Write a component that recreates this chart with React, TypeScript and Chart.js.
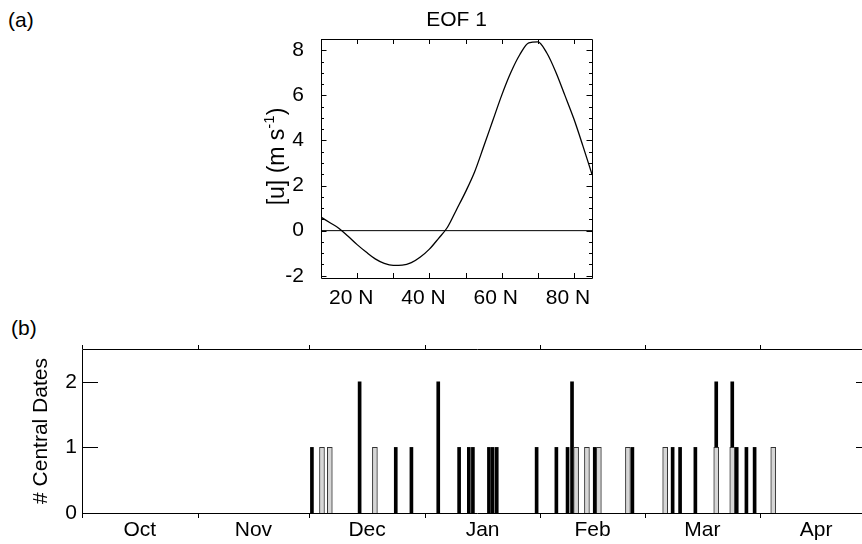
import React, { useEffect, useRef } from 'react';
import { Chart, registerables } from 'chart.js';

Chart.register(...registerables);

const FONT = '"Liberation Sans", Arial, Helvetica, sans-serif';

// ---------- Panel (a): EOF 1 ----------
const latitudes = [10, 12.5, 15, 17.5, 20, 22.5, 25, 27.5, 30, 32.5, 35, 37.5, 40, 42.5, 45, 47.5, 50, 52.5, 55, 57.5, 60, 62.5, 65, 67.5, 70, 72.5, 75, 77.5, 80, 82.5, 85];
const eofValues = [0.6, 0.35, 0.1, -0.25, -0.62, -0.95, -1.25, -1.45, -1.54, -1.53, -1.42, -1.17, -0.82, -0.35, 0.15, 0.93, 1.72, 2.6, 3.72, 4.86, 6.0, 7.0, 7.8, 8.33, 8.37, 7.88, 7.03, 6.0, 4.95, 3.75, 2.5];
const zeroLineLats = [10, 85];
const zeroLineValues = [0, 0];
const latTickValues = [10, 20, 30, 40, 50, 60, 70, 80];
const latLabelValues = [20, 40, 60, 80];
const uTickValues = [-2, 0, 2, 4, 6, 8];
const uMinorTickValues = [-1.5, -1, -0.5, 0.5, 1, 1.5, 2.5, 3, 3.5, 4.5, 5, 5.5, 6.5, 7, 7.5];
const panelATitle = 'EOF 1';
const yTitleMain = '[u] (m s';
const yTitleSup = '-1';
const yTitleClose = ')';

// ---------- Panel (b): central dates ----------
const monthNames = ['Oct', 'Nov', 'Dec', 'Jan', 'Feb', 'Mar', 'Apr'];
const monthStartDays = [0, 31, 61, 92, 123, 151, 182, 212];
const blackDays = [61.7, 74.5, 84.2, 88.4, 95.6, 101.2, 103.8, 104.9, 109.2, 110.2, 111.3, 122.0, 127.3, 130.3, 131.5, 137.6, 147.7, 158.5, 160.5, 164.6, 170.2, 174.5, 175.7, 178.3, 180.5];
const blackCounts = [1, 2, 1, 1, 2, 1, 1, 1, 1, 1, 1, 1, 1, 1, 2, 1, 1, 1, 1, 1, 2, 2, 1, 1, 1];
const greyDays = [64.4, 66.5, 78.6, 132.6, 135.5, 138.7, 146.5, 156.5, 170.2, 174.5, 185.5];
const greyCounts = [1, 1, 1, 1, 1, 1, 1, 1, 1, 1, 1];
const countTickValues = [0, 1, 2];
const panelBYTitle = '# Central Dates';

const px = (v: number) => Math.round(v) + 0.5;

const frameA = {
  id: 'frameA',
  afterDraw(chart: any) {
    const { ctx, chartArea: a, scales } = chart;
    const xs = scales.x, ys = scales.y;
    ctx.save();
    ctx.strokeStyle = '#000';
    ctx.lineWidth = 1;
    ctx.beginPath();
    ctx.rect(px(a.left), px(a.top), Math.round(a.right) - Math.round(a.left), Math.round(a.bottom) - Math.round(a.top));
    ctx.stroke();
    ctx.beginPath();
    const yTick = (v: number, len: number) => {
      const y = px(ys.getPixelForValue(v));
      ctx.moveTo(a.left, y); ctx.lineTo(a.left + len, y);
      ctx.moveTo(a.right, y); ctx.lineTo(a.right - len, y);
    };
    uTickValues.forEach(v => yTick(v, 5.5));
    uMinorTickValues.forEach(v => yTick(v, 3));
    latTickValues.forEach(v => {
      const x = px(xs.getPixelForValue(v));
      ctx.moveTo(x, a.bottom); ctx.lineTo(x, a.bottom - 5);
      ctx.moveTo(x, a.top); ctx.lineTo(x, a.top + 5);
    });
    ctx.stroke();
    // y axis title with superscript
    ctx.fillStyle = '#000';
    ctx.textBaseline = 'middle';
    ctx.textAlign = 'left';
    ctx.translate(a.left - 43, (a.top + a.bottom) / 2 - 2);
    ctx.rotate(-Math.PI / 2);
    ctx.font = `23px ${FONT}`;
    const w1 = ctx.measureText(yTitleMain).width;
    const w3 = ctx.measureText(yTitleClose).width;
    ctx.font = `15px ${FONT}`;
    const w2 = ctx.measureText(yTitleSup).width;
    let cx = -(w1 + w2 + w3) / 2;
    ctx.font = `23px ${FONT}`;
    ctx.fillText(yTitleMain, cx, 0);
    cx += w1;
    ctx.font = `15px ${FONT}`;
    ctx.fillText(yTitleSup, cx, -8);
    cx += w2;
    ctx.font = `23px ${FONT}`;
    ctx.fillText(yTitleClose, cx, 0);
    ctx.restore();
  },
};

const frameB = {
  id: 'frameB',
  afterDraw(chart: any) {
    const { ctx, chartArea: a, scales } = chart;
    const xs = scales.x, ys = scales.y;
    ctx.save();
    ctx.strokeStyle = '#000';
    ctx.lineWidth = 1;
    ctx.beginPath();
    ctx.rect(px(a.left), px(a.top), Math.round(a.right) - Math.round(a.left), Math.round(a.bottom) - Math.round(a.top));
    ctx.stroke();
    ctx.beginPath();
    countTickValues.forEach(v => {
      const y = px(ys.getPixelForValue(v));
      ctx.moveTo(a.left, y); ctx.lineTo(a.left + 16, y);
      ctx.moveTo(a.right, y); ctx.lineTo(a.right - 16, y);
    });
    monthStartDays.forEach(v => {
      const x = px(xs.getPixelForValue(v));
      ctx.moveTo(x, a.bottom); ctx.lineTo(x, a.bottom + 5);
      ctx.moveTo(x, a.top); ctx.lineTo(x, a.top - 4);
    });
    ctx.stroke();
    ctx.restore();
  },
};

export default function App() {
  const refA = useRef<HTMLCanvasElement>(null);
  const refB = useRef<HTMLCanvasElement>(null);

  useEffect(() => {
    Chart.defaults.font.family = FONT;
    Chart.defaults.color = '#000';
    const tickFont = { size: 21, family: FONT };

    const chartA = new Chart(refA.current!, {
      type: 'line',
      data: {
        datasets: [
          {
            data: latitudes.map((x, i) => ({ x, y: eofValues[i] })),
            borderColor: '#000',
            borderWidth: 1.3,
            pointRadius: 0,
            cubicInterpolationMode: 'monotone',
          },
          {
            data: zeroLineLats.map((x, i) => ({ x, y: zeroLineValues[i] })),
            borderColor: '#000',
            borderWidth: 1,
            pointRadius: 0,
          },
        ],
      },
      options: {
        animation: false,
        responsive: false,
        events: [],
        layout: { padding: { left: 0, right: 18, top: 0, bottom: 0 } },
        plugins: {
          legend: { display: false },
          tooltip: { enabled: false },
          title: {
            display: true,
            text: panelATitle,
            fullSize: false,
            color: '#000',
            font: { size: 21, weight: 'normal', family: FONT },
            padding: { top: 8, bottom: 5.8 },
          },
        },
        scales: {
          x: {
            type: 'linear',
            min: 10,
            max: 85,
            grid: { display: false, drawTicks: false },
            border: { display: false },
            afterBuildTicks: (s: any) => { s.ticks = latTickValues.map(v => ({ value: v })); },
            afterFit: (s: any) => { s.height = 42; },
            ticks: {
              autoSkip: false,
              maxRotation: 0,
              padding: 8,
              labelOffset: -6,
              font: tickFont,
              color: '#000',
              callback: (v: any) => (latLabelValues.includes(v) ? `${v} N` : ''),
            },
          },
          y: {
            type: 'linear',
            min: -2.1,
            max: 8.5,
            grid: { display: false, drawTicks: false },
            border: { display: false },
            afterBuildTicks: (s: any) => { s.ticks = uTickValues.map(v => ({ value: v })); },
            afterFit: (s: any) => { s.width = 91; },
            ticks: { padding: 17, font: tickFont, color: '#000', callback: (v: any) => String(v) },
          },
        },
      } as any,
      plugins: [frameA],
    });

    const chartB = new Chart(refB.current!, {
      type: 'bar',
      data: {
        datasets: [
          {
            data: greyDays.map((x, i) => ({ x, y: greyCounts[i] })),
            backgroundColor: '#d6d6d6',
            borderColor: '#333',
            borderWidth: 1,
            barThickness: 5,
            grouped: false,
            order: 0,
          },
          {
            data: blackDays.map((x, i) => ({ x, y: blackCounts[i] })),
            backgroundColor: '#000',
            borderWidth: 0,
            barThickness: 3,
            grouped: false,
            order: 1,
          },
        ],
      } as any,
      options: {
        animation: false,
        responsive: false,
        events: [],
        layout: { padding: { left: 0, right: 28, top: 29, bottom: 0 } },
        plugins: { legend: { display: false }, tooltip: { enabled: false } },
        scales: {
          x: {
            type: 'linear',
            min: 0,
            max: 212,
            offset: false,
            grid: { display: false, drawTicks: false, offset: false },
            border: { display: false },
            afterBuildTicks: (s: any) => {
              s.ticks = monthNames.map((_, i) => ({ value: (monthStartDays[i] + monthStartDays[i + 1]) / 2 }));
            },
            afterFit: (s: any) => { s.height = 31; },
            ticks: {
              autoSkip: false,
              maxRotation: 0,
              padding: 5,
              font: tickFont,
              color: '#000',
              callback: (_v: any, i: number) => monthNames[i],
            },
          },
          y: {
            type: 'linear',
            min: 0,
            max: 2.5,
            grid: { display: false, drawTicks: false },
            border: { display: false },
            afterBuildTicks: (s: any) => { s.ticks = countTickValues.map(v => ({ value: v })); },
            afterFit: (s: any) => { s.width = 82; },
            ticks: { padding: 5, font: tickFont, color: '#000' },
            title: {
              display: true,
              text: panelBYTitle,
              color: '#000',
              font: { size: 21, family: FONT },
              padding: { top: 29, bottom: 0 },
            },
          },
        },
      } as any,
      plugins: [frameB],
    });

    return () => {
      chartA.destroy();
      chartB.destroy();
    };
  }, []);

  const labelStyle: React.CSSProperties = {
    position: 'absolute',
    fontFamily: FONT,
    fontSize: 21,
    lineHeight: '24px',
    color: '#000',
  };

  return (
    <div style={{ position: 'fixed', left: 0, top: 0, width: 862, height: 544, overflow: 'hidden', background: '#fff' }}>
      <div style={{ ...labelStyle, left: 8, top: 8 }}>(a)</div>
      <div style={{ ...labelStyle, left: 11, top: 316 }}>(b)</div>
      <canvas
        ref={refA}
        width={380}
        height={320}
        style={{ position: 'absolute', left: 230, top: 0, width: 380, height: 320 }}
      />
      <canvas
        ref={refB}
        width={900}
        height={224}
        style={{ position: 'absolute', left: 0, top: 320, width: 900, height: 224 }}
      />
    </div>
  );
}
